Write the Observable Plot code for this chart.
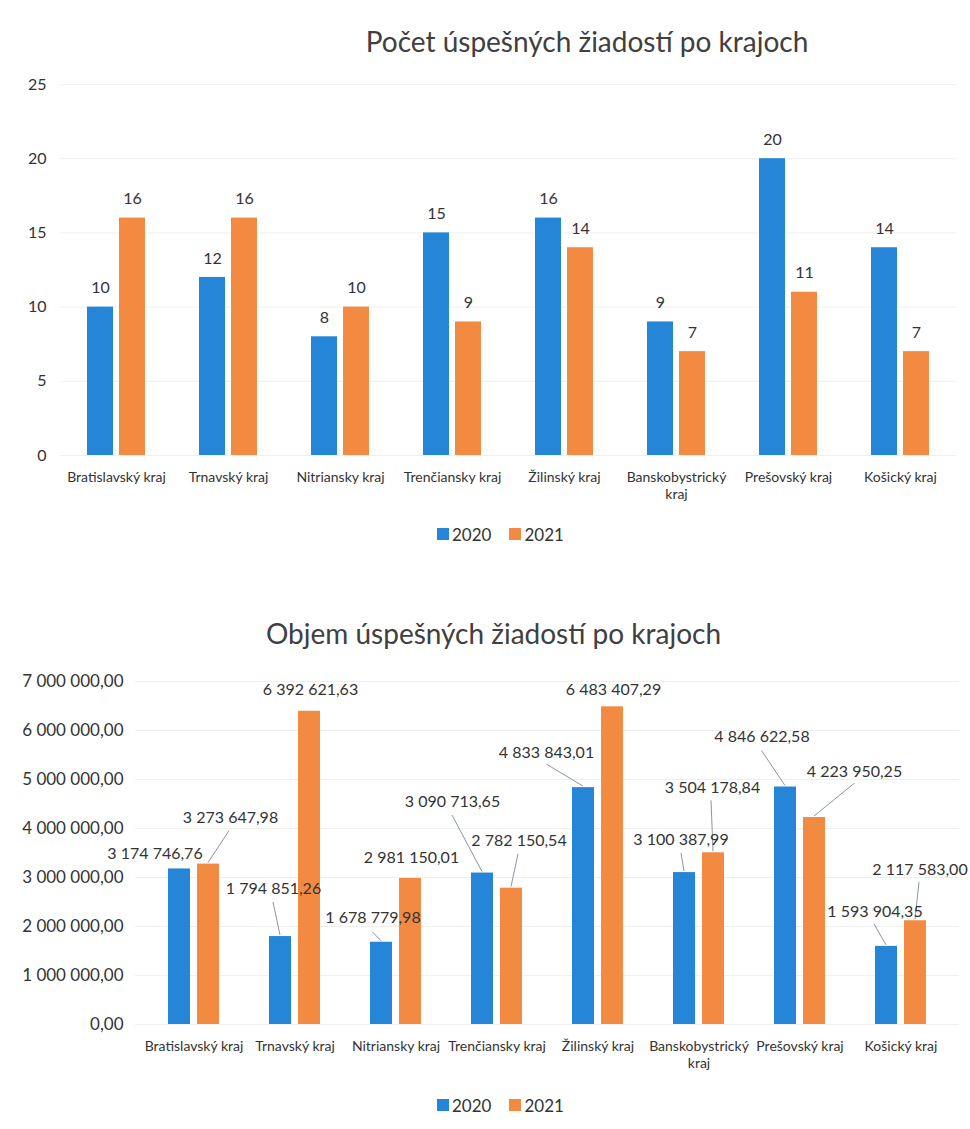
<!DOCTYPE html>
<html><head><meta charset="utf-8">
<script src="https://cdn.jsdelivr.net/npm/d3@7"></script>
<script src="https://cdn.jsdelivr.net/npm/@observablehq/plot@0.6"></script>
<style>
body{margin:0;background:#fff;font-family:Lato,sans-serif;}
#page{position:relative;width:970px;height:1129px;overflow:hidden;background:#fff;}
.title{position:absolute;width:700px;text-align:center;font-size:28px;line-height:28px;color:#404040;white-space:nowrap;}
.legend{position:absolute;display:flex;align-items:center;font-size:17px;line-height:17px;color:#333;}
.sw{width:11.5px;height:11.5px;display:inline-block;margin-right:3.5px;}
.chart{position:absolute;left:0;}
</style></head><body><div id="page"></div>
<script>
// ---------- data ----------
const regions = ["Bratislavský kraj","Trnavský kraj","Nitriansky kraj","Trenčiansky kraj","Žilinský kraj","Banskobystrický kraj","Prešovský kraj","Košický kraj"];
const years = ["2020","2021"];
const count2020 = [10,12,8,15,16,9,20,14];
const count2021 = [16,16,10,9,14,7,11,7];
const amount2020 = [3174746.76,1794851.26,1678779.98,3090713.65,4833843.01,3100387.99,4846622.58,1593904.35];
const amount2021 = [3273647.98,6392621.63,2981150.01,2782150.54,6483407.29,3504178.84,4223950.25,2117583.00];
const countTicks = [0,5,10,15,20,25];
const amountTicks = [0,1000000,2000000,3000000,4000000,5000000,6000000,7000000];
const title1 = "Počet úspešných žiadostí po krajoch";
const title2 = "Objem úspešných žiadostí po krajoch";

// ---------- styling / placement (not data) ----------
const colors = {"2020":"#2585d6","2021":"#f28a42"};
const textColor = "#333";
const gridColor = "#efefef";
// per-label offsets for chart 2: [dx, dy, leaderEnd [lx, ly] or null], relative to bar-top centre
const place2020 = [[-24.5,-15.5,null],[-7,-48,[-7,-34]],[-8.5,-24,[-8.8,-10]],[-30,-71,[-30,-57.5]],[-37,-35,[-36.5,-23]],[-3.5,-33,[-3,-19]],[-23.5,-50,[-23.5,-36]],[-11.5,-35,[-12,-22]]];
const place2021 = [[22,-46.5,[21,-33]],[1,-21,null],[1,-21,null],[7.5,-47.5,[7,-34]],[1,-17,null],[-1,-65,[-2,-52]],[40,-46,[40.5,-34]],[4.5,-51,[4,-38.5]]];

const page = document.getElementById("page");
const fmtRegion = d => d === "Banskobystrický kraj" ? "Banskobystrický\nkraj" : d;
const sk = d3.formatLocale({decimal: ",", thousands: "\u00a0", grouping: [3], currency: ["", ""]});
const fmtMoney = sk.format(",.2f");

function addTitle(text, cx, top) {
  const t = document.createElement("div");
  t.className = "title"; t.textContent = text;
  t.style.left = (cx - 350) + "px"; t.style.top = top + "px";
  page.appendChild(t);
}
function addLegend(top) {
  const l = document.createElement("div");
  l.className = "legend"; l.style.left = "437px"; l.style.top = top + "px";
  years.forEach((y, i) => {
    const s = document.createElement("span"); s.className = "sw"; s.style.background = colors[y];
    const t = document.createElement("span"); t.textContent = y;
    if (i > 0) s.style.marginLeft = "18px";
    l.appendChild(s); l.appendChild(t);
  });
  page.appendChild(l);
}

// ---------- chart 1 ----------
const rows1 = regions.flatMap((r, i) => [
  {region: r, year: "2020", value: count2020[i]},
  {region: r, year: "2021", value: count2021[i]}
]);
const r1a = rows1.filter(d => d.year === "2020"), r1b = rows1.filter(d => d.year === "2021");
const chart1 = Plot.plot({
  width: 970, height: 450, marginTop: 24, marginBottom: 55, marginLeft: 60, marginRight: 13.3,
  style: {fontFamily: "Lato, sans-serif", color: textColor, background: "transparent", overflow: "visible"},
  x: {domain: regions, paddingInner: 0.482, paddingOuter: 0.244},
  y: {domain: [0, 25]},
  marks: [
    Plot.ruleY(countTicks, {stroke: gridColor}),
    Plot.barY(r1a, {x: "region", y: "value", fill: colors["2020"], insetRight: 32}),
    Plot.barY(r1b, {x: "region", y: "value", fill: colors["2021"], insetLeft: 32}),
    Plot.text(r1a, {x: "region", y: "value", text: d => String(d.value), dx: -16, dy: -19, fontSize: 16, fill: textColor}),
    Plot.text(r1b, {x: "region", y: "value", text: d => String(d.value), dx: 16, dy: -19, fontSize: 16, fill: textColor}),
    Plot.axisY({ticks: countTicks, tickSize: 0, tickPadding: 14, fontSize: 16, label: null}),
    Plot.axisX({tickSize: 0, tickPadding: 15.5, fontSize: 14, tickFormat: fmtRegion, label: null, lineHeight: 1.15})
  ]
});
chart1.classList.add("chart"); chart1.style.top = "60px";
page.appendChild(chart1);
addTitle(title1, 587, 27);
addLegend(525.5);

// ---------- chart 2 ----------
const rows2 = regions.flatMap((r, i) => [
  {region: r, year: "2020", value: amount2020[i], place: place2020[i]},
  {region: r, year: "2021", value: amount2021[i], place: place2021[i]}
]);
const r2a = rows2.filter(d => d.year === "2020"), r2b = rows2.filter(d => d.year === "2021");
const BAR2 = 22;
function leaderLines(rows) {
  return (index, scales) => {
    const g = d3.create("svg:g").attr("aria-label", "leader lines");
    const bw = scales.x.bandwidth();
    for (const d of rows) {
      if (!d.place[2]) continue;
      const cx = scales.x(d.region) + (d.year === "2020" ? BAR2 / 2 : bw - BAR2 / 2);
      const cy = scales.y(d.value);
      g.append("line")
        .attr("x1", cx).attr("y1", cy - 1)
        .attr("x2", cx + d.place[2][0]).attr("y2", cy + d.place[2][1])
        .attr("stroke", "#8a96a3").attr("stroke-width", 1);
    }
    return g.node();
  };
}
const labelMarks = rows2.map(d => Plot.text([d], {
  x: "region", y: "value", text: v => fmtMoney(v.value),
  dx: (d.year === "2020" ? -14.5 : 14.5) + d.place[0], dy: d.place[1],
  fontSize: 16, fill: textColor
}));
const chart2 = Plot.plot({
  width: 970, height: 420, marginTop: 21, marginBottom: 56, marginLeft: 135, marginRight: 11,
  style: {fontFamily: "Lato, sans-serif", color: textColor, background: "transparent", overflow: "visible"},
  x: {domain: regions, paddingInner: 0.4985, paddingOuter: 0.3},
  y: {domain: [0, 7000000]},
  marks: [
    Plot.ruleY(amountTicks, {stroke: gridColor}),
    Plot.barY(r2a, {x: "region", y: "value", fill: colors["2020"], insetRight: 29}),
    Plot.barY(r2b, {x: "region", y: "value", fill: colors["2021"], insetLeft: 29}),
    leaderLines(rows2),
    ...labelMarks,
    Plot.axisY({ticks: amountTicks, tickSize: 0, tickPadding: 12, fontSize: 17, tickFormat: fmtMoney, label: null}),
    Plot.axisX({tickSize: 0, tickPadding: 15.5, fontSize: 14, tickFormat: fmtRegion, label: null, lineHeight: 1.15})
  ]
});
chart2.classList.add("chart"); chart2.style.top = "660px";
page.appendChild(chart2);
addTitle(title2, 493.5, 619);
addLegend(1096.5);
</script>
</body></html>
